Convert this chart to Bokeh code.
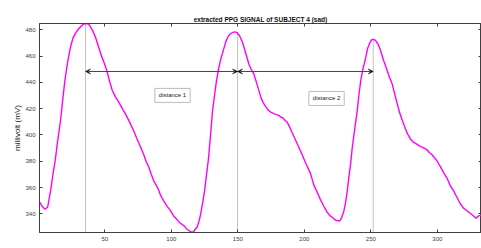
from bokeh.plotting import figure
from bokeh.models import Range1d, LinearAxis, FixedTicker, Arrow, VeeHead, Label
from bokeh.embed import file_html
from bokeh.resources import INLINE

# ---- data ----
sample_x = [1, 3, 5, 7, 9.5, 11, 12.7, 14.5, 16.7, 18.5, 20, 22, 24, 26, 28, 30.5, 33, 35, 37, 38.5,
            41, 43, 45, 47, 49.5, 51.8, 53.5, 55.6, 58, 60.5, 63.5, 66.8, 69, 71.8, 74, 76.8, 79.3, 81,
            83.1, 85, 86.8, 88.5, 90.1, 92, 94.4, 97, 99, 101.9, 104, 106, 108.2, 110, 111.5, 113.2,
            115, 116.2, 117.5, 119.5, 121, 122, 123.5, 125, 126.5, 128, 129.5, 131, 132.5, 134, 135.5,
            137, 139, 141, 142.5, 144.5, 146.2, 148, 149.5, 151, 152.5, 154, 156, 158.3, 160, 162, 164,
            165.8, 167.5, 169.5, 172, 174.6, 177.5, 179, 180.8, 182.5, 184, 185.5, 187.1, 189, 190.5,
            192.1, 195, 198.4, 201.5, 204.7, 207.1, 209.2, 212, 214.7, 217, 219.7, 221.5, 223, 224.7,
            226.5, 228, 229.7, 231, 232.3, 233.5, 234.8, 236, 237.3, 238.5, 239.8, 241, 242.5, 244, 246,
            247.5, 249, 250.5, 252, 253.5, 255.5, 257.3, 259.5, 262.3, 264, 266, 268, 269.8, 271.5,
            273.6, 275.5, 277.5, 279.8, 282, 284.5, 286.5, 288, 290, 292.4, 294, 295.5, 297.4, 299.9,
            302.4, 305, 307.4, 309.9, 312, 314.5, 317.4, 319.5, 322, 324.9, 327, 329.2, 331, 333]
ppg_mv = [349, 345.5, 343.5, 345, 359, 370, 380.5, 395, 410.8, 428, 441.5, 455, 466, 473.5, 477.5, 481,
          483.5, 484.8, 484.6, 483.5, 479, 474.4, 468, 461.5, 455, 448, 441, 434, 429, 425, 419.5,
          413.6, 409, 403, 397.5, 391, 385, 380, 375.5, 370, 365, 362, 359, 354, 349.6, 345.5, 343,
          338.2, 336, 333.5, 331.9, 330.5, 328.5, 327.3, 326.2, 325.8, 327.5, 330, 335, 339.5, 348,
          357.5, 370, 382.5, 400, 418.5, 430, 441.5, 450, 457, 464, 471, 474.6, 477, 478, 478.4,
          477.8, 476, 473, 469, 462, 454, 450, 446.6, 440, 433.9, 428, 423.8, 420, 417.4, 416, 415.5,
          414.9, 413.5, 413, 411, 409.8, 406, 402.5, 399, 392.5, 385, 377.5, 370.6, 362, 357.5, 351,
          345.8, 341.5, 338.2, 337, 335.5, 334.9, 334.4, 337, 342, 348.5, 357.5, 368, 378, 390, 400,
          409, 418.7, 430, 442, 450, 458, 465.5, 469.5, 472.3, 472.8, 472, 469, 464.3, 457, 449, 444,
          439, 431, 423.8, 417.5, 411.2, 406, 401, 397, 394.5, 393, 391.7, 391, 390, 388.6, 386.5,
          385.5, 383.3, 380, 375.7, 371, 366.9, 361, 358, 353, 347.5, 344.5, 342.5, 340.2, 338.5,
          336.6, 338.5, 339]

peak_x = [35.5, 149.8, 251.8]
peak_y = [484.8, 478.4, 472.8]
arrow_level = 448.3
distance_labels = ["distance 1", "distance 2"]
label_x = [100.9, 216.7]
label_y = [430.1, 427.8]
x_ticks = [50, 100, 150, 200, 250, 300]
y_ticks = [340, 360, 380, 400, 420, 440, 460, 480]

FONT = "Liberation Sans"
AX = "#404040"

p = figure(width=481, height=248, output_backend="svg", toolbar_location=None,
           x_range=Range1d(0.9, 333.2), y_range=Range1d(325.8, 484.8),
           title="extracted PPG SIGNAL of SUBJECT 4 (sad)",
           min_border_left=39, min_border_right=0, min_border_top=23, min_border_bottom=16)
p.title.align = "center"
p.title.text_font = FONT
p.title.text_font_size = "6.5px"
p.title.text_font_style = "bold"
p.title.text_color = "#111111"
p.title.standoff = 2
p.title.offset = 0

p.xgrid.visible = False
p.ygrid.visible = False
p.outline_line_color = AX
p.background_fill_color = "white"
p.border_fill_color = "white"

def style_axis(ax, ticks, labels=True):
    ax.ticker = FixedTicker(ticks=ticks)
    ax.axis_line_color = AX
    ax.major_tick_line_color = AX
    ax.minor_tick_line_color = None
    ax.major_tick_in = 3
    ax.major_tick_out = 0
    ax.major_label_text_font = FONT
    ax.major_label_text_font_size = "6px"
    ax.major_label_text_color = AX
    ax.major_label_standoff = 4
    if not labels:
        ax.major_label_overrides = {t: "" for t in ticks}
        ax.major_label_standoff = 0

style_axis(p.xaxis[0], x_ticks)
style_axis(p.yaxis[0], y_ticks)
p.yaxis[0].axis_label = "millivolt (mV)"
p.yaxis[0].axis_label_text_font = FONT
p.yaxis[0].axis_label_text_font_size = "8px"
p.yaxis[0].axis_label_text_font_style = "normal"
p.yaxis[0].axis_label_text_color = "#222222"
p.yaxis[0].axis_label_standoff = 0

top = LinearAxis()
style_axis(top, x_ticks, labels=False)
p.add_layout(top, "above")
right = LinearAxis()
style_axis(right, y_ticks, labels=False)
p.add_layout(right, "right")

# vertical marker lines at peaks
p.segment(x0=peak_x, y0=[325.8] * 3, x1=peak_x, y1=peak_y, line_color="#c4c4c4", line_width=1)

# signal
p.line(sample_x, ppg_mv, line_color="#ff00ff", line_width=1.4)

# distance arrows
for i in range(2):
    p.add_layout(Arrow(x_start=peak_x[i], y_start=arrow_level, x_end=peak_x[i + 1], y_end=arrow_level,
                       line_color="#444444", line_width=1,
                       start=VeeHead(size=5, fill_color="black", line_color="black", line_width=0.5),
                       end=VeeHead(size=5, fill_color="black", line_color="black", line_width=0.5)))

for t, lx, ly in zip(distance_labels, label_x, label_y):
    p.add_layout(Label(x=lx, y=ly, text=t, text_align="center", text_baseline="middle",
                       text_font=FONT, text_font_size="6px", text_color="#222222",
                       background_fill_color="white", border_line_color="#bbbbbb",
                       border_line_width=1, padding=4))

open("out.html", "w").write(file_html(p, INLINE))
